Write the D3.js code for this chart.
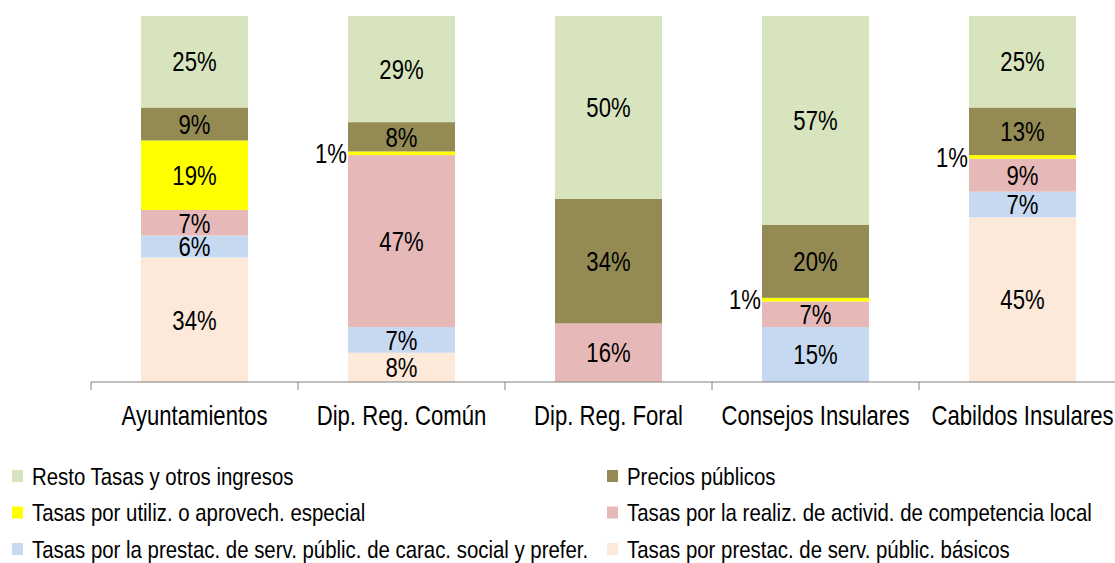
<!DOCTYPE html>
<html>
<head>
<meta charset="utf-8">
<script src="https://cdnjs.cloudflare.com/ajax/libs/d3/7.8.5/d3.min.js"></script>
<style>
  body { margin: 0; background: #fff; }
  text { font-family: "Liberation Sans", Arial, sans-serif; }
</style>
</head>
<body>
<script>
const categories = ["Ayuntamientos", "Dip. Reg. Común", "Dip. Reg. Foral", "Consejos Insulares", "Cabildos Insulares"];

// series, bottom to top of the stack (percent)
const basicos = [34, 8, 0, 0, 45];
const social = [6, 7, 0, 15, 7];
const realiz = [7, 47, 16, 7, 9];
const utiliz = [19, 1, 0, 1, 1];
const precios = [9, 8, 34, 20, 13];
const resto = [25, 29, 50, 57, 25];

const seriesNames = [
  "Tasas por prestac. de serv. públic. básicos",
  "Tasas por la prestac. de serv. públic. de carac. social y prefer.",
  "Tasas por la realiz. de activid. de competencia local",
  "Tasas por utiliz. o aprovech. especial",
  "Precios públicos",
  "Resto Tasas y otros ingresos"
];
const seriesValues = [basicos, social, realiz, utiliz, precios, resto];
const colors = ["#FDE9D9", "#C6D9F1", "#E6B9B8", "#FFFF00", "#948A54", "#D7E4BD"];

// legend order: rows left/right
const legendOrder = [5, 4, 3, 2, 1, 0];

const W = 1115, H = 563;
const margin = { top: 16, left: 91 };
const width = 1035,            // plot runs past the right edge of the picture
      height = 382 - margin.top;
const narrow = 0.82;           // no narrow font installed, squeeze instead

const svg = d3.select("body").append("svg")
  .attr("width", W)
  .attr("height", H);

const g = svg.append("g")
  .attr("transform", `translate(${margin.left},${margin.top})`);

const table = categories.map((c, i) => {
  const row = { cat: c };
  seriesNames.forEach((s, j) => row[s] = seriesValues[j][i]);
  return row;
});

const stacked = d3.stack().keys(seriesNames)(table);

const x = d3.scaleBand()
  .domain(categories)
  .range([0, width])
  .paddingInner(0.483)
  .paddingOuter(0.2415);

const y = d3.scaleLinear()
  .domain([0, 100])
  .range([height, 0]);

const layers = g.selectAll("g.layer")
  .data(stacked)
  .enter().append("g")
  .attr("class", "layer")
  .attr("fill", (d, i) => colors[i]);

layers.selectAll("rect")
  .data(d => d)
  .enter().append("rect")
  .attr("x", d => x(d.data.cat))
  .attr("y", d => y(d[1]))
  .attr("width", x.bandwidth())
  .attr("height", d => y(d[0]) - y(d[1]));

// value labels (tiny ones sit left of the bar)
layers.each(function(layer) {
  d3.select(this).selectAll("text")
    .data(layer.filter(d => d[1] - d[0] > 0))
    .enter().append("text")
    .attr("transform", d => {
      const small = (d[1] - d[0]) < 2;
      const tx = small ? x(d.data.cat) - 1 : x(d.data.cat) + x.bandwidth() / 2;
      return `translate(${tx},${(y(d[0]) + y(d[1])) / 2}) scale(${narrow},1)`;
    })
    .attr("dy", "0.36em")
    .attr("text-anchor", d => (d[1] - d[0]) < 2 ? "end" : "middle")
    .attr("fill", "#000")
    .style("font-size", "27px")
    .text(d => (d[1] - d[0]) + "%");
});

// x axis
const step = x.step();
const axis = g.append("g").attr("transform", `translate(0,${height})`);
axis.append("line")
  .attr("x1", 0).attr("x2", width)
  .attr("stroke", "#808080").attr("stroke-width", 1.2);
axis.selectAll("line.tick")
  .data(categories)
  .enter().append("line")
  .attr("class", "tick")
  .attr("x1", d => x(d) + x.bandwidth() / 2 - step / 2)
  .attr("x2", d => x(d) + x.bandwidth() / 2 - step / 2)
  .attr("y1", 0).attr("y2", 8)
  .attr("stroke", "#808080");
axis.selectAll("text")
  .data(categories)
  .enter().append("text")
  .attr("transform", d => `translate(${x(d) + x.bandwidth() / 2},43) scale(${narrow},1)`)
  .attr("text-anchor", "middle")
  .attr("fill", "#000")
  .style("font-size", "27px")
  .text(d => d);

// legend
const legItems = svg.append("g").selectAll("g")
  .data(legendOrder)
  .enter().append("g")
  .attr("transform", (d, i) => `translate(${i % 2 === 0 ? 12 : 607},${476 + Math.floor(i / 2) * 36.5})`);
legItems.append("rect")
  .attr("x", 0).attr("y", -6)
  .attr("width", 11).attr("height", 12)
  .attr("fill", d => colors[d]);
legItems.append("text")
  .attr("transform", "translate(20,0) scale(0.85,1)")
  .attr("dy", "0.36em")
  .attr("fill", "#000")
  .style("font-size", "24px")
  .text(d => seriesNames[d]);
</script>
</body>
</html>
